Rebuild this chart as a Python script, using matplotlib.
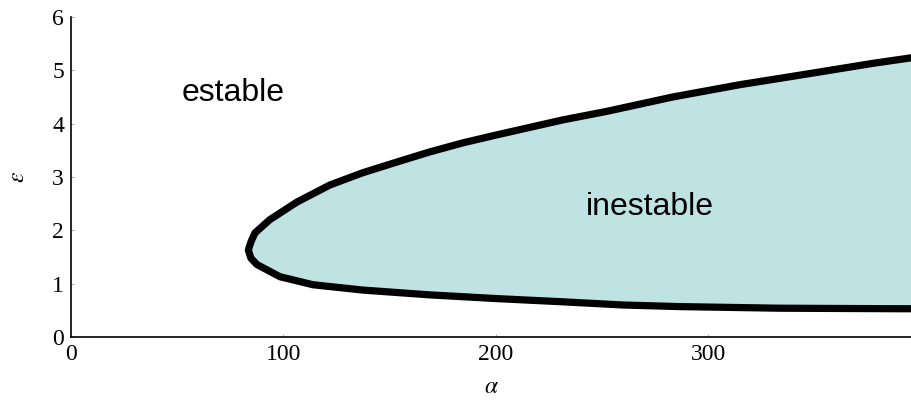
import numpy as np
import matplotlib.pyplot as plt

plt.rcParams['font.family'] = ['Liberation Serif', 'DejaVu Serif']
plt.rcParams['mathtext.fontset'] = 'stix'

# ── datos ────────────────────────────────────────────────────────────────────
# rama superior de la frontera de estabilidad (desde la punta hacia la derecha)
alpha_sup = [83.5, 84.7, 86.6, 93.6, 106.4, 121.9, 137.4, 153.4, 168.9, 184.5,
             200.5, 216.0, 231.5, 252.2, 283.3, 314.8, 346.4, 377.4, 394.8, 402.0]
eps_sup   = [1.63, 1.78, 1.95, 2.20, 2.53, 2.85, 3.08, 3.28, 3.47, 3.64,
             3.79, 3.93, 4.07, 4.23, 4.50, 4.73, 4.93, 5.13, 5.23, 5.27]

# rama inferior (desde la punta hacia la derecha)
alpha_inf = [83.5, 84.7, 87.5, 98.4, 113.9, 137.4, 168.9, 200.5, 231.5,
             260.0, 286.6, 333.6, 390.1, 402.0]
eps_inf   = [1.63, 1.48, 1.36, 1.13, 0.98, 0.88, 0.79, 0.72, 0.66,
             0.60, 0.57, 0.54, 0.53, 0.53]

xticks = [0, 100, 200, 300]
yticks = [0, 1, 2, 3, 4, 5, 6]

# ── figura ───────────────────────────────────────────────────────────────────
fig = plt.figure(figsize=(9.12, 4.03), dpi=100)
ax = fig.add_axes([71 / 912, 66 / 403, 841 / 912, 320 / 403])

borde_a = np.concatenate([alpha_sup[::-1], alpha_inf[1:]])
borde_e = np.concatenate([eps_sup[::-1], eps_inf[1:]])

ax.fill(borde_a, borde_e, color='#bfe3e3', edgecolor='none', zorder=1)
ax.plot(borde_a, borde_e, color='black', linewidth=5.2,
        solid_joinstyle='round', solid_capstyle='butt', zorder=2)

ax.text(52, 4.58, 'estable', family=['Liberation Sans', 'DejaVu Sans'],
        fontsize=23, va='center', ha='left')
ax.text(242.5, 2.44, 'inestable', family=['Liberation Sans', 'DejaVu Sans'],
        fontsize=23, va='center', ha='left')

ax.set_xlim(0, 396)
ax.set_ylim(0, 6)
ax.set_xticks(xticks)
ax.set_yticks(yticks)

for lado in ['top', 'right']:
    ax.spines[lado].set_visible(False)
for lado in ['left', 'bottom']:
    ax.spines[lado].set_linewidth(1.2)

ax.tick_params(direction='in', length=2, width=0.5, color='#888888',
               labelsize=17, pad=5)

ax.set_xlabel(r'$\alpha$', fontsize=17, labelpad=9)
ax.set_ylabel(r'$\varepsilon$', fontsize=17, labelpad=17)

fig.savefig('out.png', dpi=100)
